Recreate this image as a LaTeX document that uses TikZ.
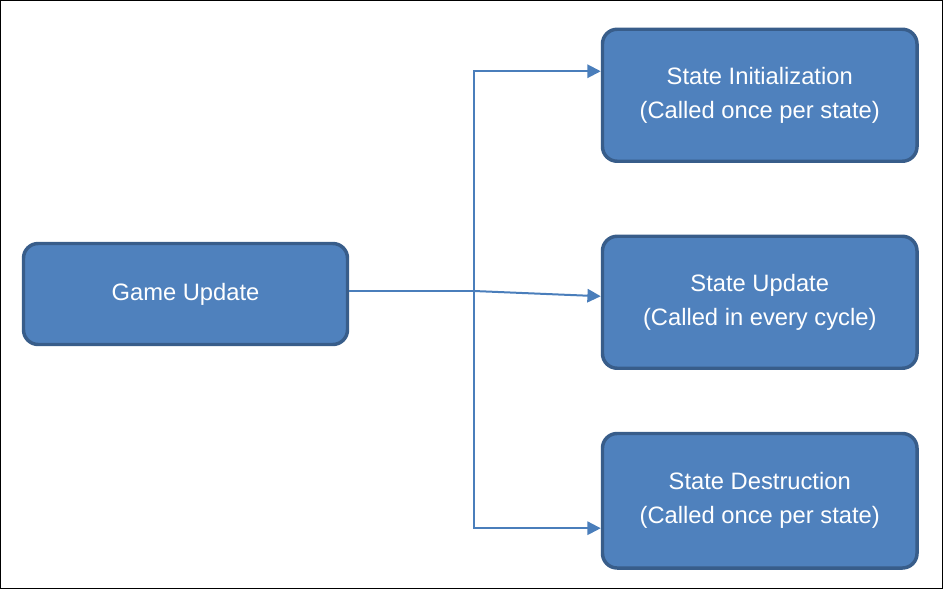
\documentclass[tikz,border=0pt]{standalone}
\usepackage{fontspec}
\setmainfont{Liberation Sans}
\usetikzlibrary{arrows.meta}
\definecolor{boxfill}{HTML}{4F81BD}
\definecolor{boxline}{HTML}{385D8A}
\definecolor{arrcol}{HTML}{4A7EBB}
\tikzset{
  box/.style={draw=boxline, fill=boxfill, line width=2.6pt, rounded corners=11pt,
    text=white, align=center, font=\fontsize{17.8}{25.5}\selectfont, inner sep=0pt},
  wide/.style={box, minimum width=243pt, minimum height=75.75pt},
  side/.style={box, minimum width=235.9pt, minimum height=99pt},
  arr/.style={draw=arrcol, line width=1.5pt, -{Triangle[length=10pt,width=10pt]}},
  conn/.style={draw=arrcol, line width=1.5pt}
}
\begin{document}
\begin{tikzpicture}[x=0.75pt,y=-0.75pt]
\useasboundingbox (0,0) rectangle (943,589);
\draw[black, line width=0.75pt] (0.5,0.5) rectangle (942.5,588.5);
\node[wide] (game) at (185.5,294) {Game Update};
\node[side] (init) at (759.75,95.25) {State Initialization\\(Called once per state)};
\node[side] (upd) at (759.75,302.25) {State Update\\(Called in every cycle)};
\node[side, minimum height=100.9pt] (dest) at (759.75,500.75) {State Destruction\\(Called once per state)};
\coordinate (j) at (474,291);
\draw[conn] (game.east |- j) -- (j);
\draw[arr] (j) |- ([yshift=18pt]init.west);
\draw[arr] (j) -- ([yshift=4.5pt]upd.west);
\draw[arr] (j) |- ([yshift=-20.6pt]dest.west);
\end{tikzpicture}
\end{document}
